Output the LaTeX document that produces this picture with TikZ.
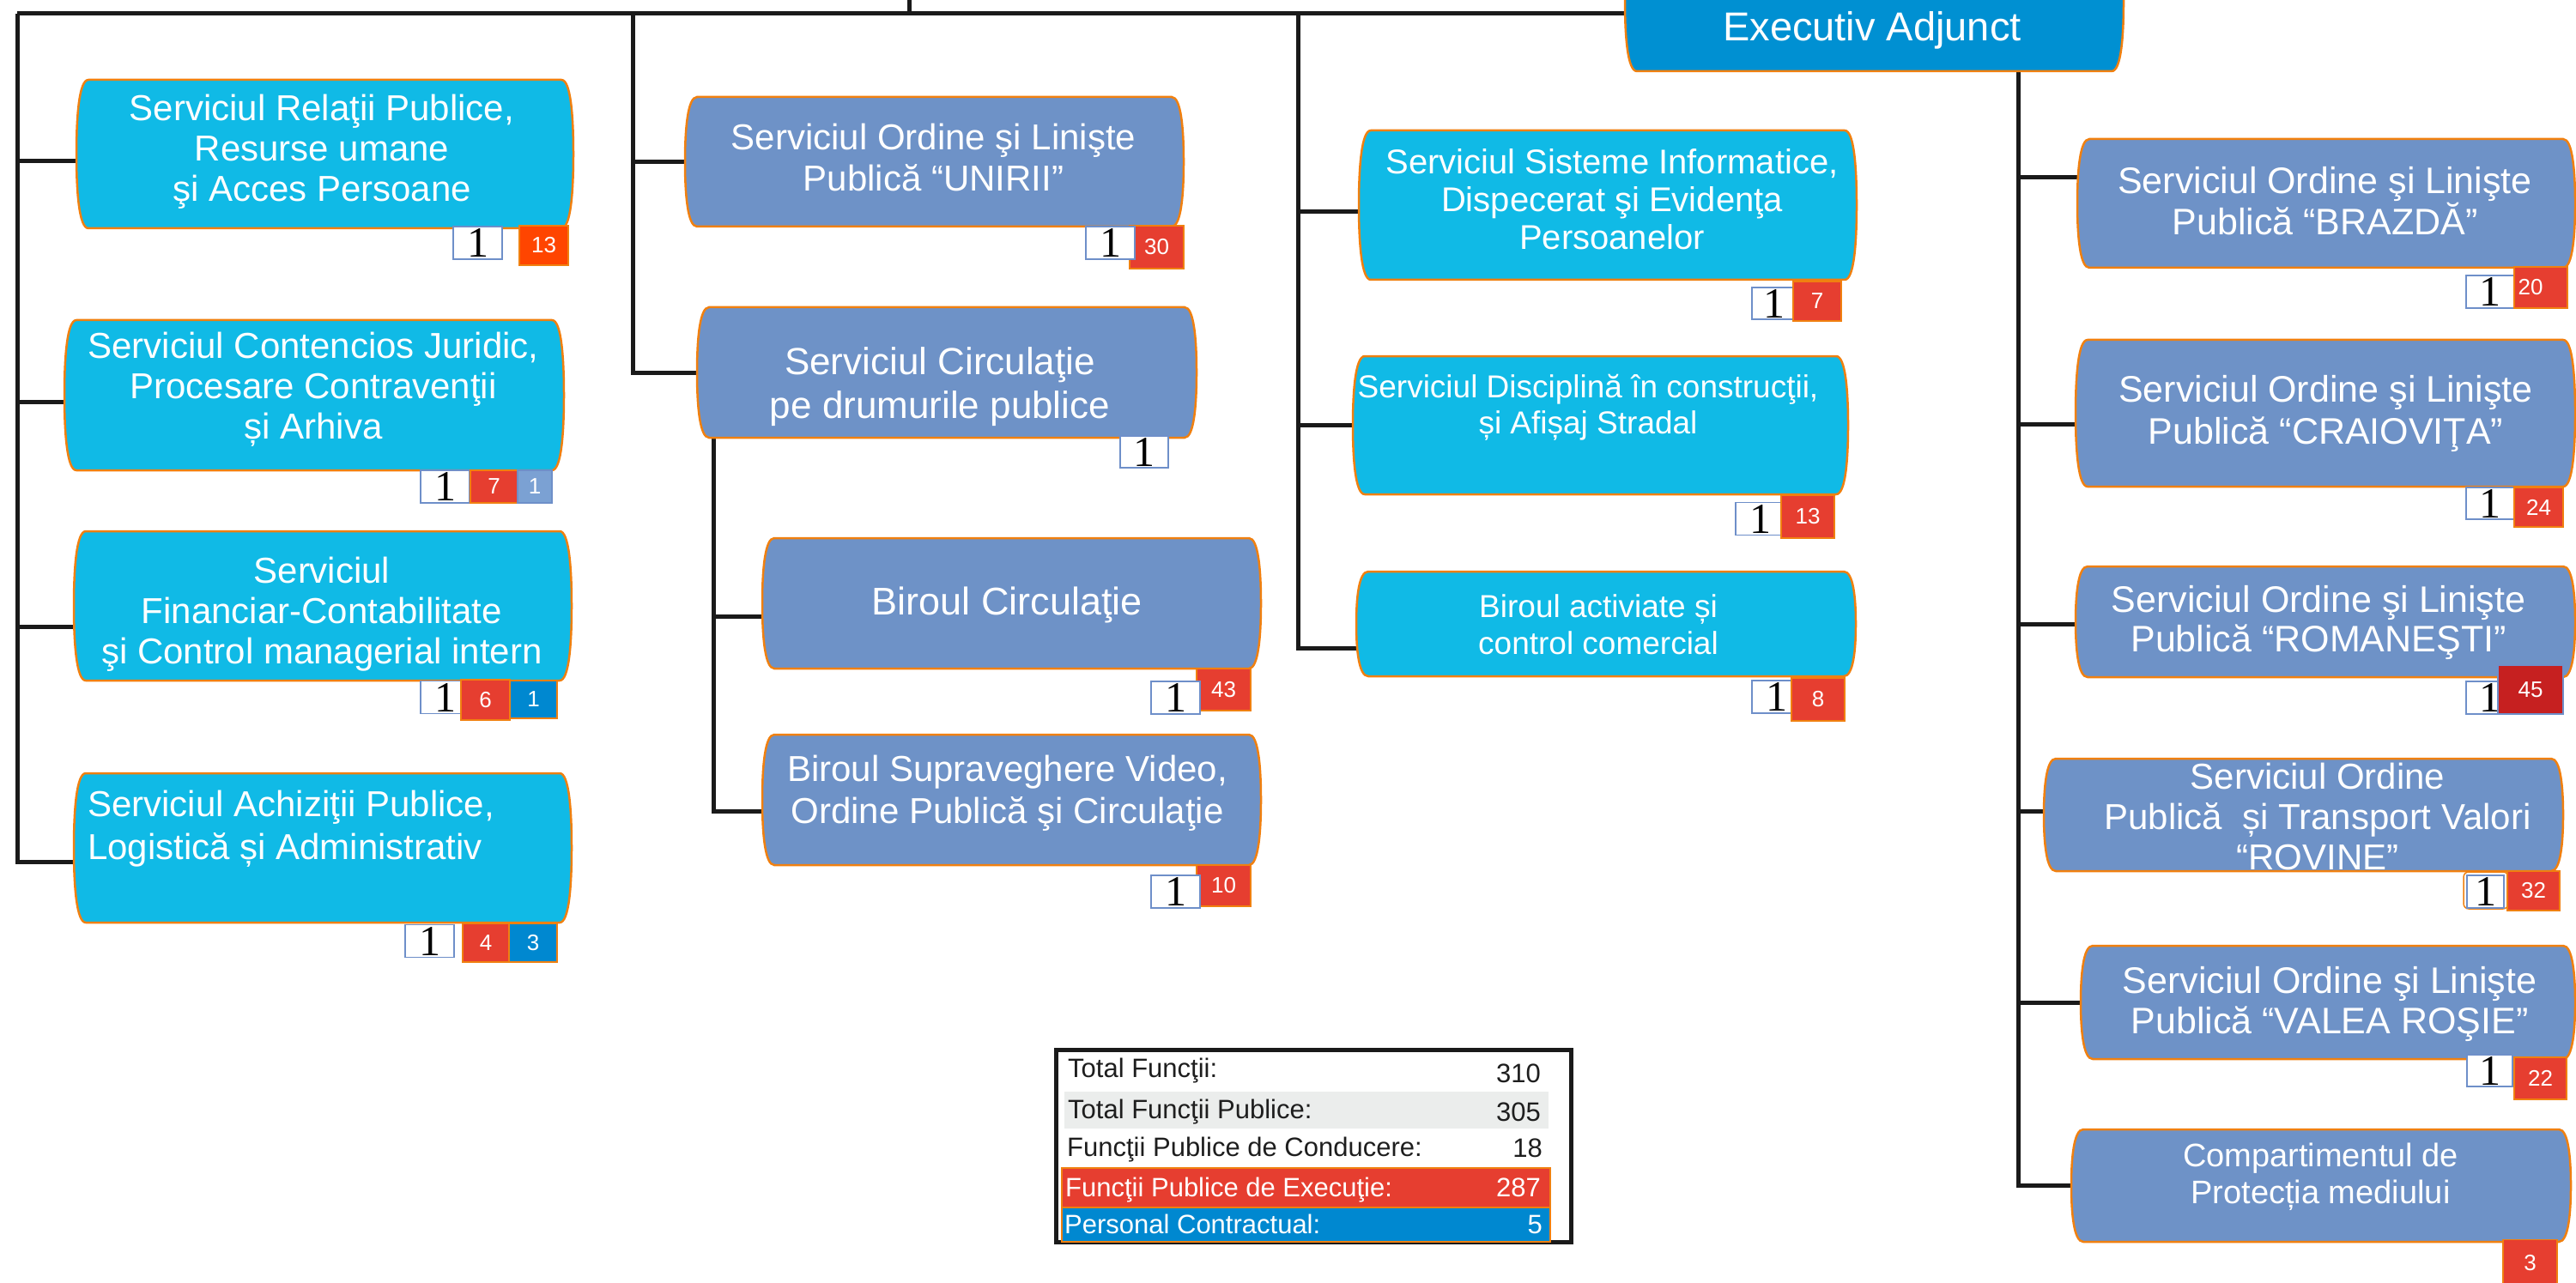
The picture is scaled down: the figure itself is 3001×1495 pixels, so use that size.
\documentclass[tikz,border=0pt]{standalone}
\usepackage{fontspec}
\setmainfont{Liberation Sans}
\newfontfamily\onefont{Liberation Serif}
\usetikzlibrary{calc}
\definecolor{cyanbox}{HTML}{10BAE6}
\definecolor{steelbox}{HTML}{6E92C7}
\definecolor{eabox}{HTML}{0090D2}
\definecolor{bord}{HTML}{F08010}
\definecolor{redb}{HTML}{E63E30}
\definecolor{orangeb}{HTML}{FF4500}
\definecolor{darkredb}{HTML}{C62020}
\definecolor{blueb}{HTML}{0088D0}
\definecolor{lightb}{HTML}{7BA1D3}
\definecolor{wbord}{HTML}{6E8FC9}
\definecolor{greyrow}{HTML}{EBEDEC}
\definecolor{linec}{HTML}{1A1A1A}
\definecolor{tbltext}{HTML}{1E1E1E}

\newcommand{\drawbarrel}[2]{%
  \path[fill=#2, draw=bord, line width=2.5pt]
    ($(#1.north west)+(14,0)$) -- ($(#1.north east)+(-14,0)$)
    .. controls ($(#1.north east)+(-3,0)$) and ($(#1.north east)!0.25!(#1.south east)$) .. (#1.east)
    .. controls ($(#1.north east)!0.75!(#1.south east)$) and ($(#1.south east)+(-3,0)$) .. ($(#1.south east)+(-14,0)$)
    -- ($(#1.south west)+(14,0)$)
    .. controls ($(#1.south west)+(3,0)$) and ($(#1.north west)!0.75!(#1.south west)$) .. (#1.west)
    .. controls ($(#1.north west)!0.25!(#1.south west)$) and ($(#1.north west)+(3,0)$) .. cycle;
}

\tikzset{
  bx/.style={draw=none, fill=none, inner sep=0pt, outer sep=0pt},
  txt/.style={text=white, align=center, inner sep=0pt},
  conn/.style={draw=linec, line width=5pt},
  onebadge/.style={draw=wbord, line width=1.5pt, fill=white, inner sep=0pt, outer sep=0pt,
     minimum width=57, minimum height=38, text=black, font=\onefont\fontsize{50}{50}\selectfont},
  numbadge/.style={fill=redb, draw=bord, line width=1.5pt, inner sep=0pt, outer sep=0pt,
     text=white, font=\fontsize{26}{26}\selectfont},
  tbltxt/.style={inner sep=0pt, text=tbltext, font=\fontsize{31}{31}\selectfont},
}

\begin{document}
\begin{tikzpicture}[x=1pt, y=-1pt]
\useasboundingbox (0,0) rectangle (3001,1495);

% ---------- box nodes ----------
\node[bx, minimum width=579, minimum height=173] (a1) at (378.5,179.5) {};
\node[bx, minimum width=582, minimum height=175] (a2) at (366,460.5) {};
\node[bx, minimum width=580, minimum height=174] (a3) at (376,706) {};
\node[bx, minimum width=580, minimum height=174] (a4) at (376,988) {};
\node[bx, minimum width=581, minimum height=151] (b1) at (1088.5,188.5) {};
\node[bx, minimum width=582, minimum height=152] (b2) at (1103,434) {};
\node[bx, minimum width=581, minimum height=152] (b3) at (1178.5,703) {};
\node[bx, minimum width=581, minimum height=152] (b4) at (1178.5,932) {};
\node[bx, minimum width=580, minimum height=174] (c1) at (1873,239) {};
\node[bx, minimum width=577, minimum height=161] (c2) at (1864.5,495.5) {};
\node[bx, minimum width=582, minimum height=122] (c3) at (1871,727) {};
\node[bx, minimum width=581, minimum height=163] (ea) at (2183.5,1.5) {};
\node[bx, minimum width=580, minimum height=150] (d1) at (2710,237) {};
\node[bx, minimum width=582, minimum height=171] (d2) at (2709,481.5) {};
\node[bx, minimum width=582, minimum height=129] (d3) at (2709,724.5) {};
\node[bx, minimum width=605, minimum height=131] (d4) at (2683.5,949.5) {};
\node[bx, minimum width=576, minimum height=132] (d5) at (2712,1168) {};
\node[bx, minimum width=582, minimum height=131] (d6) at (2704,1381.5) {};

% ---------- connector coordinates ----------
\coordinate (top1) at (20,16);
\coordinate (top2) at (737,16);
\coordinate (top3) at (1512,16);
\coordinate (topin) at (1059,0);
\coordinate (top4) at (2351,83);
\coordinate (sub2) at ($(b2.south west)+(19,0)$);
\coordinate (a1s) at ($(a1.west)+(0,8.5)$);
\coordinate (a2s) at ($(a2.west)+(0,7.5)$);
\coordinate (a3s) at ($(a3.west)+(0,24)$);
\coordinate (a4s) at ($(a4.west)+(0,16)$);
\coordinate (b3s) at ($(b3.west)+(0,15)$);
\coordinate (b4s) at ($(b4.west)+(0,13)$);
\coordinate (c1s) at ($(c1.west)+(0,8)$);
\coordinate (c3s) at ($(c3.west)+(0,28)$);
\coordinate (d1s) at ($(d1.west)+(0,-30)$);
\coordinate (d2s) at ($(d2.west)+(0,12.5)$);
\coordinate (d3s) at ($(d3.west)+(0,2.5)$);
\coordinate (d4s) at ($(d4.west)+(0,-4.5)$);

% ---------- connectors ----------
\draw[conn] (top1) -- (ea.west |- top1);
\draw[conn] (topin) -- (topin |- top1);
\draw[conn] (top1) |- (a4s);
\draw[conn] (a1s) -- (a1s -| top1);
\draw[conn] (a2s) -- (a2s -| top1);
\draw[conn] (a3s) -- (a3s -| top1);
\draw[conn] (top2) |- (b2.west);
\draw[conn] (b1.west) -- (b1.west -| top2);
\draw[conn] (sub2) |- (b4s);
\draw[conn] (b3s) -- (b3s -| sub2);
\draw[conn] (top3) |- (c3s);
\draw[conn] (c1s) -- (c1s -| top3);
\draw[conn] (c2.west) -- (c2.west -| top3);
\draw[conn] (top4) |- (d6.west);
\draw[conn] (d1s) -- (d1s -| top4);
\draw[conn] (d2s) -- (d2s -| top4);
\draw[conn] (d3s) -- (d3s -| top4);
\draw[conn] (d4s) -- (d4s -| top4);
\draw[conn] (d5.west) -- (d5.west -| top4);

% ---------- box shapes ----------
\drawbarrel{a1}{cyanbox}
\drawbarrel{a2}{cyanbox}
\drawbarrel{a3}{cyanbox}
\drawbarrel{a4}{cyanbox}
\drawbarrel{b1}{steelbox}
\drawbarrel{b2}{steelbox}
\drawbarrel{b3}{steelbox}
\drawbarrel{b4}{steelbox}
\drawbarrel{c1}{cyanbox}
\drawbarrel{c2}{cyanbox}
\drawbarrel{c3}{cyanbox}
\drawbarrel{ea}{eabox}
\drawbarrel{d1}{steelbox}
\drawbarrel{d2}{steelbox}
\drawbarrel{d3}{steelbox}
\drawbarrel{d4}{steelbox}
\drawbarrel{d5}{steelbox}
\drawbarrel{d6}{steelbox}

% ---------- box texts ----------
\node[txt, font=\fontsize{42}{47}\selectfont] (a1t) at (375,176.5) {Serviciul Relaţii Publice,\\Resurse umane\\şi Acces Persoane};
\node[txt, font=\fontsize{42}{47}\selectfont] (a2t) at (365,454) {Serviciul Contencios Juridic,\\Procesare Contravenţii\\și Arhiva};
\node[txt, font=\fontsize{42}{47}\selectfont] (a3t) at (375,716) {Serviciul\\Financiar-Contabilitate\\şi Control managerial intern};
\node[txt, align=left, anchor=west, font=\fontsize{42}{50}\selectfont] (a4t) at (102,966) {Serviciul Achiziţii Publice,\\Logistică și Administrativ};
\node[txt, font=\fontsize{42}{48}\selectfont] (b1t) at (1087.5,183) {Serviciul Ordine şi Linişte\\Publică “UNIRII”};
\node[txt, font=\fontsize{44}{51}\selectfont] (b2t) at (1095,451) {Serviciul Circulaţie\\pe drumurile publice};
\node[txt, font=\fontsize{45}{50}\selectfont] (b3t) at (1173.5,705) {Biroul Circulaţie};
\node[txt, font=\fontsize{42}{49}\selectfont] (b4t) at (1173.5,924.5) {Biroul Supraveghere Video,\\Ordine Publică şi Circulaţie};
\node[txt, font=\fontsize{40}{44}\selectfont] (c1t) at (1878,232.5) {Serviciul Sisteme Informatice,\\Dispecerat şi Evidenţa\\Persoanelor};
\node[txt, font=\fontsize{37}{42}\selectfont] (c2t) at (1850,475) {Serviciul Disciplină în construcţii,\\și Afișaj Stradal};
\node[txt, font=\fontsize{37}{43}\selectfont] (c3t) at (1862,728) {Biroul activiate și\\control comercial};
\node[txt, anchor=base, font=\fontsize{47}{50}\selectfont] (eat) at (2181,48) {Executiv Adjunct};
\node[txt, font=\fontsize{43}{48}\selectfont] (d1t) at (2708.5,234) {Serviciul Ordine şi Linişte\\Publică “BRAZDĂ”};
\node[txt, font=\fontsize{43}{49}\selectfont] (d2t) at (2709.5,482) {Serviciul Ordine şi Linişte\\Publică “CRAIOVIŢA”};
\node[txt, font=\fontsize{43}{46}\selectfont] (d3t) at (2701,725.6) {Serviciul Ordine şi Linişte\\Publică “ROMANEŞTI”};
\node[txt, font=\fontsize{42}{47}\selectfont] (d4t) at (2700,951.6) {Serviciul Ordine\\Publică\ \ și Transport Valori\\“ROVINE”};
\node[txt, font=\fontsize{43}{47}\selectfont] (d5t) at (2714,1170) {Serviciul Ordine şi Linişte\\Publică “VALEA ROŞIE”};
\node[txt, font=\fontsize{38}{43}\selectfont] (d6t) at (2703.5,1371.6) {Compartimentul de\\Protecția mediului};

% text of ROVINE cut at the box bottom
\fill[white] ($(d4.south west)+(150,1.5)$) rectangle ($(d4.south east)+(-150,22)$);
\draw[bord, line width=2.5pt] ($(d4.south west)+(14,0)$) -- ($(d4.south east)+(-14,0)$);

% ---------- badges ----------
\node[onebadge] (a1n) at (556.5,283) {1};
\node[numbadge, fill=orangeb, minimum width=57, minimum height=46] (a1r) at (633.5,286) {13};

\node[onebadge] (a2n) at (518.5,567) {1};
\node[numbadge, minimum width=55, minimum height=38] (a2r) at (575.5,567) {7};
\node[numbadge, fill=lightb, draw=wbord, minimum width=40, minimum height=38] (a2b) at (623,567) {1};

\node[onebadge] (a3n) at (518.5,812.5) {1};
\node[numbadge, minimum width=57, minimum height=47] (a3r) at (565.5,815.5) {6};
\node[numbadge, fill=blueb, minimum width=55, minimum height=44] (a3b) at (621.5,815) {1};

\node[onebadge] (a4n) at (500.5,1096.5) {1};
\node[numbadge, minimum width=54, minimum height=45] (a4r) at (566,1098.5) {4};
\node[numbadge, fill=blueb, minimum width=56, minimum height=45] (a4b) at (621,1098.5) {3};

\node[numbadge, minimum width=63, minimum height=50] (b1r) at (1347.5,288) {\raisebox{-6pt}{30}};
\node[onebadge] (b1n) at (1293.5,283) {1};

\node[onebadge, minimum width=56, minimum height=37] (b2n) at (1333,526.5) {1};

\node[numbadge, minimum width=63, minimum height=49] (b3r) at (1425.5,803.5) {43};
\node[onebadge] (b3n) at (1369.5,813) {1};

\node[numbadge, minimum width=63, minimum height=48] (b4r) at (1425.5,1032) {10};
\node[onebadge] (b4n) at (1369.5,1039) {1};

\node[onebadge, minimum width=51, minimum height=37] (c1n) at (2066.5,353.5) {1};
\node[numbadge, minimum width=56, minimum height=46] (c1r) at (2117,351) {7};

\node[onebadge] (c2n) at (2050.5,604.5) {1};
\node[numbadge, minimum width=62, minimum height=50] (c2r) at (2106,602) {13};

\node[onebadge] (c3n) at (2069.5,812) {1};
\node[numbadge, minimum width=62, minimum height=50] (c3r) at (2118,815) {8};

\node[onebadge, minimum width=56] (d1n) at (2901,340) {1};
\node[numbadge, minimum width=62, minimum height=48] (d1r) at (2960,335) {20\hspace*{24pt}};

\node[onebadge, minimum width=56, minimum height=37] (d2n) at (2901,586.5) {1};
\node[numbadge, minimum width=57, minimum height=46] (d2r) at (2957.5,591) {24};

\node[onebadge, minimum width=56] (d3n) at (2901,813) {1};
\node[numbadge, fill=darkredb, draw=wbord, minimum width=76, minimum height=57] (d3r) at (2948,803.5) {45};

\draw[bord, line width=1.5pt, rounded corners=6pt] (2870,1016) rectangle (2922,1059);
\node[onebadge, minimum width=43] (d4n) at (2895.5,1039) {1};
\node[numbadge, minimum width=61, minimum height=46] (d4r) at (2951.5,1038) {32};

\node[onebadge, minimum width=53, minimum height=37] (d5n) at (2900.5,1247.5) {1};
\node[numbadge, minimum width=61, minimum height=49] (d5r) at (2959.5,1256.5) {22};

\node[numbadge, minimum width=63, minimum height=55] (d6r) at (2947.5,1472) {3};

% ---------- totals table ----------
\node[draw=linec, line width=5pt, inner sep=0pt, outer sep=0pt, minimum width=600, minimum height=224, anchor=north west] (tbl) at (1230.5,1223.5) {};
\node[bx, fill=greyrow, minimum width=564, minimum height=43, anchor=north west] (row2) at (1240,1272) {};
\node[bx, fill=redb, draw=bord, line width=1.5pt, minimum width=569, minimum height=46, anchor=north west] (row4) at (1237,1361) {};
\node[bx, fill=blueb, draw=bord, line width=1.5pt, minimum width=569, minimum height=40, anchor=north west] (row5) at (1237,1407) {};

\node[tbltxt, anchor=base west] (t1) at (1244,1255) {Total Funcţii:};
\node[tbltxt, anchor=base east] (v1) at (1795,1261) {310};
\node[tbltxt, anchor=base west] (t2) at (1244,1303) {Total Funcţii Publice:};
\node[tbltxt, anchor=base east] (v2) at (1795,1306) {305};
\node[tbltxt, anchor=base west] (t3) at (1243,1347) {Funcţii Publice de Conducere:};
\node[tbltxt, anchor=base east] (v3) at (1797,1348) {18};
\node[tbltxt, text=white, anchor=base west] (t4) at (1241,1394) {Funcţii Publice de Execuţie:};
\node[tbltxt, text=white, anchor=base east] (v4) at (1795,1394) {287};
\node[tbltxt, text=white, anchor=base west] (t5) at (1240,1437) {Personal Contractual:};
\node[tbltxt, text=white, anchor=base east] (v5) at (1797,1437) {5};
\end{tikzpicture}
\end{document}
